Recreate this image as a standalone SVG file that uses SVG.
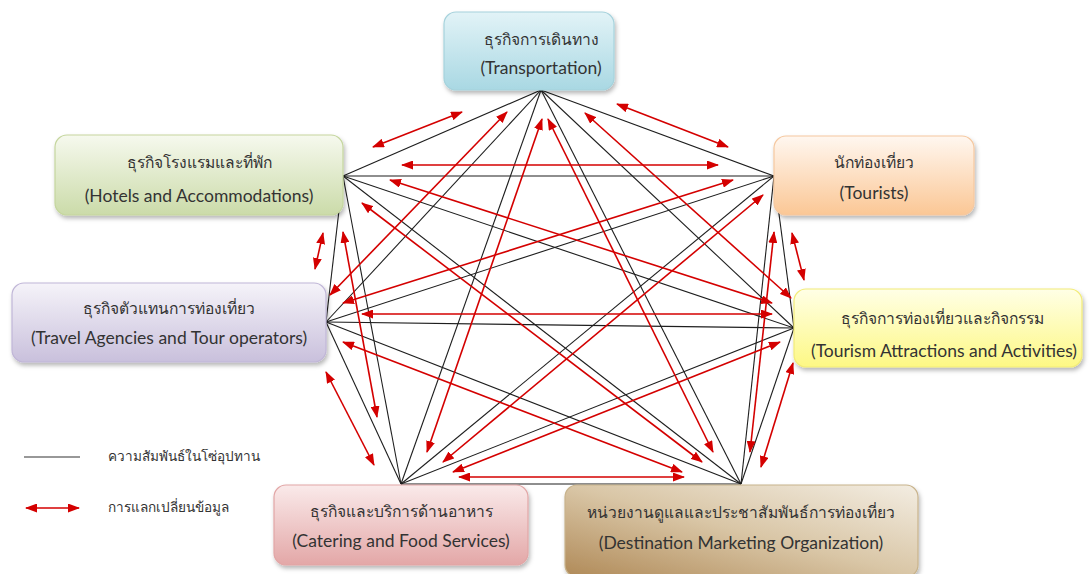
<svg xmlns="http://www.w3.org/2000/svg" width="1092" height="574" viewBox="0 0 1092 574">
  <style>
    .link { stroke: #1e1e1e; stroke-width: 1.1; fill: none; }
    .flow { stroke: #d40000; stroke-width: 1.6; fill: none; marker-start: url(#head); marker-end: url(#head); }
    .box { stroke-width: 1.2; filter: url(#shadow); }
    .th { font-family: "Noto Sans", "Liberation Sans", sans-serif; font-size: 15.6px; fill: #333333; text-anchor: middle; }
    .en { font-family: Lato, "Liberation Sans", sans-serif; font-size: 17.5px; fill: #333333; text-anchor: middle; }
    .legend { font-family: "Noto Sans", "Liberation Sans", sans-serif; font-size: 13.6px; fill: #333333; }
  </style>
  <defs>
    <marker id="head" viewBox="0 0 12 9" refX="11" refY="4.5" markerWidth="12" markerHeight="9" markerUnits="userSpaceOnUse" orient="auto-start-reverse">
      <path d="M0,0 L12,4.5 L0,9 z" fill="#d40000"/>
    </marker>
    <filter id="shadow" x="-10%" y="-10%" width="125%" height="135%">
      <feDropShadow dx="1.5" dy="3" stdDeviation="2" flood-color="#000000" flood-opacity="0.28"/>
    </filter>
    <linearGradient id="gTrans" x1="0" y1="0" x2="0" y2="1">
      <stop offset="0" stop-color="#e2f3f7"/>
      <stop offset="1" stop-color="#a9d8e3"/>
    </linearGradient>
    <linearGradient id="gHotel" x1="0" y1="0" x2="0" y2="1">
      <stop offset="0" stop-color="#f6f9ee"/>
      <stop offset="1" stop-color="#cbdba9"/>
    </linearGradient>
    <linearGradient id="gTourist" x1="0" y1="0" x2="0" y2="1">
      <stop offset="0" stop-color="#fff7f0"/>
      <stop offset="1" stop-color="#fbc795"/>
    </linearGradient>
    <linearGradient id="gAgency" x1="0" y1="0" x2="0" y2="1">
      <stop offset="0" stop-color="#f5f3f9"/>
      <stop offset="1" stop-color="#c9c0dc"/>
    </linearGradient>
    <linearGradient id="gAttr" x1="0" y1="0" x2="0" y2="1">
      <stop offset="0" stop-color="#ffffe6"/>
      <stop offset="1" stop-color="#fdf884"/>
    </linearGradient>
    <linearGradient id="gFood" x1="0" y1="0" x2="0" y2="1">
      <stop offset="0" stop-color="#faeaea"/>
      <stop offset="1" stop-color="#e3a7a7"/>
    </linearGradient>
    <linearGradient id="gDmo" x1="1" y1="0" x2="0" y2="1">
      <stop offset="0" stop-color="#f3ede2"/>
      <stop offset="0.5" stop-color="#d9c6a6"/>
      <stop offset="1" stop-color="#b08a58"/>
    </linearGradient>
  </defs>

  <!-- supply-chain relations (black) and information exchange (red) -->
  <g id="connectors">
    <g id="relations">
      <line class="link" x1="541" y1="90" x2="343" y2="176"/>
      <line class="link" x1="541" y1="90" x2="774" y2="176"/>
      <line class="link" x1="541" y1="90" x2="326" y2="322"/>
      <line class="link" x1="541" y1="90" x2="794" y2="328"/>
      <line class="link" x1="541" y1="90" x2="401" y2="484"/>
      <line class="link" x1="541" y1="90" x2="741" y2="484"/>
      <line class="link" x1="343" y1="176" x2="774" y2="176"/>
      <line class="link" x1="343" y1="176" x2="326" y2="322"/>
      <line class="link" x1="343" y1="176" x2="794" y2="328"/>
      <line class="link" x1="343" y1="176" x2="401" y2="484"/>
      <line class="link" x1="343" y1="176" x2="741" y2="484"/>
      <line class="link" x1="774" y1="176" x2="326" y2="322"/>
      <line class="link" x1="774" y1="176" x2="794" y2="328"/>
      <line class="link" x1="774" y1="176" x2="401" y2="484"/>
      <line class="link" x1="774" y1="176" x2="741" y2="484"/>
      <line class="link" x1="326" y1="322" x2="794" y2="328"/>
      <line class="link" x1="326" y1="322" x2="401" y2="484"/>
      <line class="link" x1="326" y1="322" x2="741" y2="484"/>
      <line class="link" x1="794" y1="328" x2="401" y2="484"/>
      <line class="link" x1="794" y1="328" x2="741" y2="484"/>
      <line class="link" x1="401" y1="484" x2="741" y2="484"/>
    </g>
    <g id="exchanges">
      <line class="flow" x1="373" y1="147" x2="462" y2="112"/>
      <line class="flow" x1="617" y1="104" x2="728" y2="147"/>
      <line class="flow" x1="330" y1="295" x2="507" y2="112"/>
      <line class="flow" x1="585" y1="113" x2="791" y2="298"/>
      <line class="flow" x1="542" y1="119" x2="427" y2="452"/>
      <line class="flow" x1="548" y1="119" x2="713" y2="452"/>
      <line class="flow" x1="402" y1="165" x2="718" y2="165"/>
      <line class="flow" x1="323" y1="233" x2="315" y2="269"/>
      <line class="flow" x1="390" y1="180" x2="772" y2="303"/>
      <line class="flow" x1="343" y1="232" x2="377" y2="417"/>
      <line class="flow" x1="362" y1="203" x2="702" y2="462"/>
      <line class="flow" x1="343" y1="303" x2="733" y2="180"/>
      <line class="flow" x1="792" y1="233" x2="804" y2="280"/>
      <line class="flow" x1="443" y1="462" x2="763" y2="195"/>
      <line class="flow" x1="774" y1="232" x2="750" y2="452"/>
      <line class="flow" x1="362" y1="314" x2="772" y2="314"/>
      <line class="flow" x1="326" y1="372" x2="374" y2="465"/>
      <line class="flow" x1="343" y1="342" x2="682" y2="472"/>
      <line class="flow" x1="453" y1="472" x2="780" y2="342"/>
      <line class="flow" x1="793" y1="363" x2="761" y2="467"/>
      <line class="flow" x1="459" y1="477" x2="684" y2="477"/>
    </g>
  </g>

  <g id="transportation">
    <rect class="box" x="444" y="12" width="170" height="78" rx="12" fill="url(#gTrans)" stroke="#a6d2dc"/>
    <text class="th" x="541" y="45">ธุรกิจการเดินทาง</text>
    <text class="en" x="541" y="74">(Transportation)</text>
  </g>

  <g id="hotels">
    <rect class="box" x="55" y="135" width="288" height="80" rx="12" fill="url(#gHotel)" stroke="#c5d69e"/>
    <text class="th" x="199" y="168">ธุรกิจโรงแรมและที่พัก</text>
    <text class="en" x="199" y="202">(Hotels and Accommodations)</text>
  </g>

  <g id="tourists">
    <rect class="box" x="774" y="136" width="200" height="79" rx="12" fill="url(#gTourist)" stroke="#f5c8a0"/>
    <text class="th" x="874" y="168">นักท่องเที่ยว</text>
    <text class="en" x="874" y="199">(Tourists)</text>
  </g>

  <g id="agencies">
    <rect class="box" x="12" y="283" width="314" height="79" rx="12" fill="url(#gAgency)" stroke="#c0b6d7"/>
    <text class="th" x="169" y="314">ธุรกิจตัวแทนการท่องเที่ยว</text>
    <text class="en" x="169" y="344">(Travel Agencies and Tour operators)</text>
  </g>

  <g id="attractions">
    <rect class="box" x="794" y="289" width="288" height="78" rx="12" fill="url(#gAttr)" stroke="#f2ec78"/>
    <text class="th" x="942" y="324">ธุรกิจการท่องเที่ยวและกิจกรรม</text>
    <text class="en" x="944" y="357">(Tourism Attractions and Activities)</text>
  </g>

  <g id="catering">
    <rect class="box" x="274" y="485" width="254" height="80" rx="12" fill="url(#gFood)" stroke="#e2a6a6"/>
    <text class="th" x="401" y="517">ธุรกิจและบริการด้านอาหาร</text>
    <text class="en" x="401" y="547">(Catering and Food Services)</text>
  </g>

  <g id="dmo">
    <rect class="box" x="565" y="485" width="353" height="92" rx="12" fill="url(#gDmo)" stroke="#c8b38c"/>
    <text class="th" x="741" y="518">หน่วยงานดูแลและประชาสัมพันธ์การท่องเที่ยว</text>
    <text class="en" x="741" y="549">(Destination Marketing Organization)</text>
  </g>

  <g id="legend">
    <line x1="24" y1="457" x2="80" y2="457" stroke="#333333" stroke-width="1.2"/>
    <text class="legend" x="108" y="461">ความสัมพันธ์ในโซ่อุปทาน</text>
    <line class="flow" x1="26" y1="508" x2="79" y2="508"/>
    <text class="legend" x="108" y="512">การแลกเปลี่ยนข้อมูล</text>
  </g>
</svg>
